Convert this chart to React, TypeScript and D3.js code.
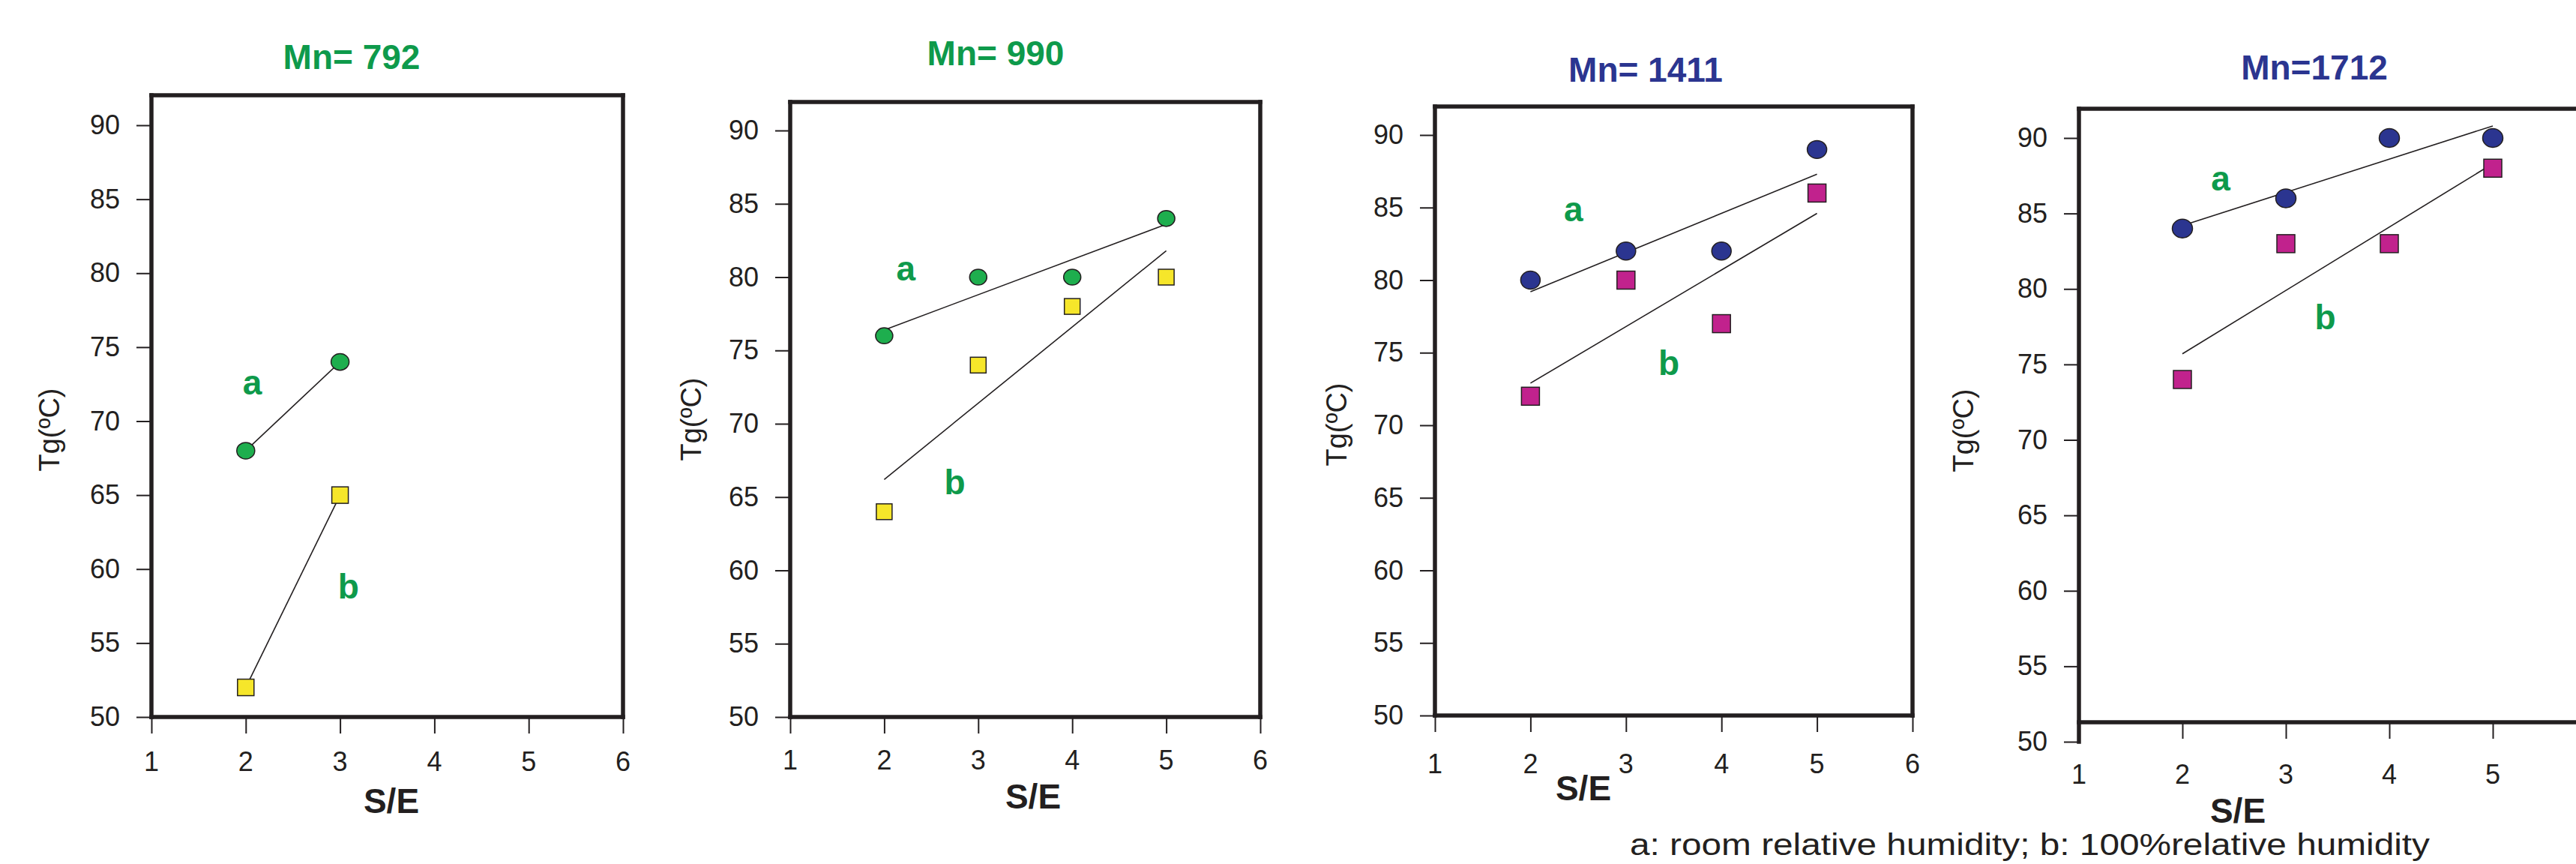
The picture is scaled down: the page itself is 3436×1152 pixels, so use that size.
import React, { useEffect, useRef } from 'react';
import * as d3 from 'd3';

// S/E ratios on the x axis
const seShort = [2, 3];
const seFull = [2, 3, 4, 5];

// Tg (ºC); "Room" = room relative humidity, "Wet" = 100% RH
const tg792Room = [68, 74];
const tg792Wet = [52, 65];
const tg990Room = [76, 80, 80, 84];
const tg990Wet = [64, 74, 78, 80];
const tg1411Room = [80, 82, 82, 89];
const tg1411Wet = [72, 80, 77, 86];
const tg1712Room = [84, 86, 90, 90];
const tg1712Wet = [74, 83, 83, 88];

const titles = ['Mn= 792', 'Mn= 990', 'Mn= 1411', 'Mn=1712'];
const xTicks = [1, 2, 3, 4, 5, 6];
const xTicksCut = [1, 2, 3, 4, 5]; // last panel runs off the page edge
const yTicks = [50, 55, 60, 65, 70, 75, 80, 85, 90];
const footnote = 'a: room relative humidity; b: 100%relative humidity';

const GREEN_T = '#0e9a4b';
const NAVY = '#2b3590';
const GREEN = '#1eae4e';
const YELLOW = '#f6e62a';
const MAGENTA = '#c1228d';
const INK = '#231f20';

const panels = [
  { title: titles[0], tColor: GREEN_T, xs: seShort, room: tg792Room, wet: tg792Wet, cFill: GREEN, sFill: YELLOW, xt: xTicks,
    left: 202, right: 831, top: 127, bottom: 956, y50: 956, y90: 167, r: 12, sq: 22,
    titlePos: [469, 76], tgPos: [66, 573], sePos: [522, 1068], xLabY: 1015, aAt: [2.07, 72.6], bAt: [3.09, 58.8] },
  { title: titles[1], tColor: GREEN_T, xs: seFull, room: tg990Room, wet: tg990Wet, cFill: GREEN, sFill: YELLOW, xt: xTicks,
    left: 1054, right: 1681, top: 136, bottom: 956, y50: 956, y90: 174, r: 11.5, sq: 21,
    titlePos: [1328, 71], tgPos: [922, 559], sePos: [1378, 1062], xLabY: 1013, aAt: [2.23, 80.6], bAt: [2.75, 66.0] },
  { title: titles[2], tColor: NAVY, xs: seFull, room: tg1411Room, wet: tg1411Wet, cFill: NAVY, sFill: MAGENTA, xt: xTicks,
    left: 1914, right: 2551, top: 142, bottom: 954, y50: 954, y90: 180, r: 13, sq: 24,
    titlePos: [2195, 93], tgPos: [1783, 566], sePos: [2112, 1051], xLabY: 1018, aAt: [2.45, 84.9], bAt: [3.45, 74.3] },
  { title: titles[3], tColor: NAVY, xs: seFull, room: tg1712Room, wet: tg1712Wet, cFill: NAVY, sFill: MAGENTA, xt: xTicksCut,
    left: 2773, right: 3463, top: 145, bottom: 963, y50: 989, y90: 184, r: 13.5, sq: 24,
    titlePos: [3087, 90], tgPos: [2619, 574], sePos: [2985, 1081], xLabY: 1032, aAt: [2.37, 87.3], bAt: [3.38, 78.1] },
];

// least squares fit, drawn from first to last x
function fit(xs, ys) {
  const mx = d3.mean(xs), my = d3.mean(ys);
  const b = d3.sum(xs, (x, i) => (x - mx) * (ys[i] - my)) / d3.sum(xs, x => (x - mx) ** 2);
  const a = my - b * mx;
  const x0 = d3.min(xs), x1 = d3.max(xs);
  return [[x0, a + b * x0], [x1, a + b * x1]];
}

const App = () => {
  const svgRef = useRef(null);

  useEffect(() => {
    const svg = d3.select(svgRef.current);
    svg.selectAll('*').remove();
    const font = 'Liberation Sans, Arial, sans-serif';

    panels.forEach(p => {
      const g = svg.append('g');
      const x = d3.scaleLinear().domain([1, 6]).range([p.left, p.right]);
      const y = d3.scaleLinear().domain([50, 90]).range([p.y50, p.y90]);

      // y axis ticks + labels
      const yAx = g.append('g')
        .attr('transform', `translate(${p.left},0)`)
        .call(d3.axisLeft(y).tickValues(yTicks).tickSize(20).tickPadding(22));
      yAx.select('.domain').remove();
      yAx.selectAll('line').attr('stroke', INK).attr('stroke-width', 2);
      yAx.selectAll('text').attr('font-size', 36).attr('font-family', font).attr('fill', INK);

      // x axis ticks
      const xAx = g.append('g')
        .attr('transform', `translate(0,${p.bottom})`)
        .call(d3.axisBottom(x).tickValues(p.xt).tickSize(22).tickFormat(() => ''));
      xAx.select('.domain').remove();
      xAx.selectAll('line').attr('stroke', INK).attr('stroke-width', 2);
      g.append('g').selectAll('text').data(p.xt).join('text')
        .attr('x', d => x(d)).attr('y', p.xLabY)
        .attr('text-anchor', 'middle').attr('dominant-baseline', 'central')
        .attr('font-size', 36).attr('font-family', font).attr('fill', INK)
        .text(d => d);

      // frame
      const frame = [
        [[p.left, p.top], [p.right, p.top]],
        [[p.right, p.top], [p.right, p.bottom]],
        [[p.left, p.bottom], [p.right, p.bottom]],
        [[p.left, p.top], [p.left, Math.max(p.bottom, p.y50)]],
      ];
      g.append('g').selectAll('path').data(frame).join('path')
        .attr('d', d3.line())
        .attr('stroke', INK).attr('stroke-width', 5.5).attr('stroke-linecap', 'square').attr('fill', 'none');

      // fit lines
      const line = d3.line().x(d => x(d[0])).y(d => y(d[1]));
      [p.room, p.wet].forEach(vals => {
        g.append('path').attr('d', line(fit(p.xs, vals)))
          .attr('stroke', INK).attr('stroke-width', 1.6).attr('fill', 'none');
      });

      // markers
      g.append('g').selectAll('rect').data(p.xs).join('rect')
        .attr('x', (d) => x(d) - p.sq / 2)
        .attr('y', (d, i) => y(p.wet[i]) - p.sq / 2)
        .attr('width', p.sq).attr('height', p.sq)
        .attr('fill', p.sFill).attr('stroke', INK).attr('stroke-width', 1.5);
      g.append('g').selectAll('ellipse').data(p.xs).join('ellipse')
        .attr('cx', d => x(d))
        .attr('cy', (d, i) => y(p.room[i]))
        .attr('rx', p.r).attr('ry', p.r * 0.92)
        .attr('fill', p.cFill).attr('stroke', INK).attr('stroke-width', 1.5);

      // series letters
      [['a', p.aAt], ['b', p.bAt]].forEach(([t, at]) => {
        g.append('text').attr('x', x(at[0])).attr('y', y(at[1]))
          .attr('text-anchor', 'middle').attr('dominant-baseline', 'central')
          .attr('font-size', 46).attr('font-weight', 'bold').attr('font-family', font)
          .attr('fill', GREEN_T).text(t);
      });

      // title
      g.append('text').attr('x', p.titlePos[0]).attr('y', p.titlePos[1])
        .attr('text-anchor', 'middle').attr('dominant-baseline', 'central')
        .attr('font-size', 46).attr('font-weight', 'bold').attr('font-family', font)
        .attr('fill', p.tColor).text(p.title);

      // axis titles
      g.append('text')
        .attr('transform', `translate(${p.tgPos[0]},${p.tgPos[1]}) rotate(-90)`)
        .attr('text-anchor', 'middle').attr('dominant-baseline', 'central')
        .attr('font-size', 38).attr('font-family', font).attr('fill', INK)
        .text('Tg(ºC)');
      g.append('text').attr('x', p.sePos[0]).attr('y', p.sePos[1])
        .attr('text-anchor', 'middle').attr('dominant-baseline', 'central')
        .attr('font-size', 46).attr('font-weight', 'bold').attr('font-family', font)
        .attr('fill', INK).text('S/E');
    });

    svg.append('text').attr('x', 2174).attr('y', 1140)
      .attr('font-size', 40).attr('font-family', font).attr('fill', INK)
      .attr('textLength', 1067).attr('lengthAdjust', 'spacingAndGlyphs')
      .text(footnote);
  }, []);

  return (
    <svg ref={svgRef} width={3436} height={1152}
      style={{ position: 'absolute', left: 0, top: 0, background: '#fff', display: 'block' }} />
  );
};

export default App;
